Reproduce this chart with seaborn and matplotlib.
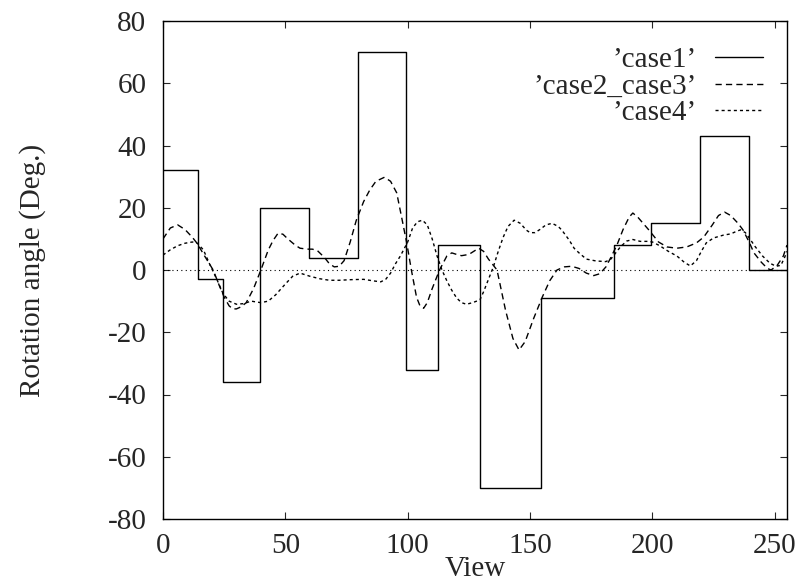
import numpy as np
import pandas as pd
import matplotlib
matplotlib.use("Agg")
import matplotlib.pyplot as plt
import seaborn as sns

# ---- data ----
case1_edges = [0, 14.5, 24.5, 39.5, 59.5, 79.5, 99.5, 112.5, 129.5, 154.5, 184.5, 199.5, 219.5, 239.5, 255]
case1_vals = [32, -3, -36, 20, 4, 70, -32, 8, -70, -9, 8, 15, 43, 0]

case23_x = [0, 3, 6, 9, 12, 14, 17, 20.5, 23, 25, 27, 28.5, 30, 32, 34, 37, 40, 43, 45, 47, 49, 51,
            54, 56, 59, 61, 63, 66, 68, 70, 72, 74, 76.5, 79, 82, 84.5, 87, 90.5, 93, 95.5, 97.5,
            99.6, 101.5, 103.6, 105, 106.5, 108, 110, 113, 116, 118, 120, 122, 125, 127, 129, 131,
            133, 136.5, 140, 143, 145.5, 148, 151.5, 155, 158, 161, 164, 167, 170, 173, 176, 178.5,
            181, 183, 185.5, 188, 190.5, 192, 194, 198.5, 202.5, 206, 210, 214, 218, 221, 224.5,
            227, 229.5, 232, 235, 237, 239.5, 241.5, 244.5, 247, 248.5, 251, 253.5, 255]
case23_y = [10, 13.5, 14.5, 13, 10.5, 8.5, 4.5, 0, -5, -8.7, -11.5, -12.5, -12.5, -11.8, -10.5, -6,
            0, 6.4, 9.5, 11.8, 11.5, 10, 8, 7, 6.7, 6.7, 6.3, 4, 2, 1, 1.2, 3, 9, 16, 22, 25.7, 28.5,
            29.8, 28.5, 24.8, 17, 8.7, 0, -8.7, -11.5, -12.3, -10.5, -6, 0, 4.5, 5.5, 5, 4.6, 5, 6,
            7, 6, 3.5, 0, -13, -22, -25.7, -23, -15.5, -8.7, -3.5, 0, 1, 1.2, 0.5, -1, -1.8, -1.2,
            1, 4, 8, 13, 17, 18.3, 17, 12.9, 9, 7.4, 7, 7.4, 8.7, 10.6, 14.5, 17.5, 18.6, 17.5, 15,
            12.9, 9, 5.5, 2.5, 0.5, 0, 1.5, 4.5, 8]

case4_x = [0, 3, 6, 9, 12, 14, 16.5, 19, 22, 24.5, 27, 30, 33, 36, 40, 43, 46, 50, 53, 56, 60, 64,
           68, 72, 77, 82, 86, 89, 91, 93, 95, 97, 100, 102, 104, 106, 108, 110, 112, 114, 116, 118,
           120, 122, 124, 126.5, 129.5, 131, 133, 135, 137, 139, 141, 143.5, 146, 148.5, 150, 152,
           154, 156.5, 159, 161.5, 163, 166, 168, 170, 173, 177, 181, 183, 185, 187, 189.5, 192,
           195, 198, 200, 203, 206.5, 210, 213, 215.5, 218, 220, 222, 225, 229, 232, 234, 236, 238,
           240, 242, 245, 248, 250.5, 252.5, 254, 255]
case4_y = [4.8, 6.5, 7.8, 8.6, 9, 8.6, 6.5, 2, -3, -7.5, -10, -11, -10.8, -10, -10.5, -10, -8, -4.5,
           -2, -1, -2, -2.8, -3.3, -3.3, -3.1, -3, -3.5, -3.8, -3, -1, 2, 4.5, 9, 13.5, 15.5, 16,
           14.5, 10, 4.5, 0, -3.5, -6.5, -9, -10.5, -11, -10.5, -9.6, -7, -3, 1, 6, 10.5, 14, 16,
           15, 12.8, 12, 12, 13, 14.5, 15, 14, 12.8, 9.6, 7, 5.5, 3.5, 2.9, 2.7, 3.5, 5.5, 7.5, 9.3,
           9.8, 9.2, 9.2, 9, 7.8, 6, 4.5, 2.5, 1.3, 3, 6, 8.7, 10.3, 11.2, 11.6, 12.3, 12.9, 12,
           9.8, 7.5, 4.5, 2.2, 1.2, 1.5, 4, 6]

labels = ["\u2019case1\u2019", "\u2019case2_case3\u2019", "\u2019case4\u2019"]
x_ticks = [0, 50, 100, 150, 200, 250]
y_ticks = [-80, -60, -40, -20, 0, 20, 40, 60, 80]

# ---- frames ----
df1 = pd.DataFrame({"View": case1_edges, "Angle": case1_vals + [case1_vals[-1]]})
df2 = pd.DataFrame({"View": case23_x, "Angle": case23_y})
df3 = pd.DataFrame({"View": case4_x, "Angle": case4_y})

sns.set_style("ticks")
plt.rcParams["font.family"] = ["Liberation Serif", "DejaVu Serif"]
plt.rcParams["axes.unicode_minus"] = False
plt.rcParams["xtick.direction"] = "in"
plt.rcParams["ytick.direction"] = "in"

FS = 21

fig = plt.figure(figsize=(7.97, 5.87), dpi=100)
ax = fig.add_axes([163 / 797, 1 - 519 / 587, (787 - 163) / 797, (519 - 21) / 587])

ax.axhline(0, color="black", lw=0.8, ls=(0, (1, 3)), zorder=1)

sns.lineplot(data=df1, x="View", y="Angle", ax=ax, color="black", lw=1.0,
             drawstyle="steps-post", label=labels[0], estimator=None, sort=False)
sns.lineplot(data=df2, x="View", y="Angle", ax=ax, color="black", lw=1.0,
             label=labels[1], estimator=None, sort=False)
sns.lineplot(data=df3, x="View", y="Angle", ax=ax, color="black", lw=1.0,
             label=labels[2], estimator=None, sort=False)
lines = ax.get_lines()
lines[2].set_linestyle((0, (4.5, 3)))
lines[3].set_linestyle((0, (2.2, 2.2)))

ax.set_xlim(0, 255)
ax.set_ylim(-80, 80)
ax.set_xticks(x_ticks)
ax.set_yticks(y_ticks)
ax.tick_params(axis="both", labelsize=FS, length=5, width=0.8,
               top=True, right=True)
ax.tick_params(axis="x", pad=10)
ax.tick_params(axis="y", pad=12)
for s in ax.spines.values():
    s.set_linewidth(1.0)
    s.set_color("black")

ax.set_xlabel("View", fontsize=FS, labelpad=-2)
ax.set_ylabel("Rotation angle (Deg.)", fontsize=FS, labelpad=44)

leg = ax.legend(loc="upper right", bbox_to_anchor=(0.9615, 0.948), frameon=False,
                markerfirst=False, fontsize=FS, handlelength=1.64, handletextpad=0.62,
                labelspacing=0.0, borderpad=0, borderaxespad=0)

fig.savefig("out.png", dpi=100)
